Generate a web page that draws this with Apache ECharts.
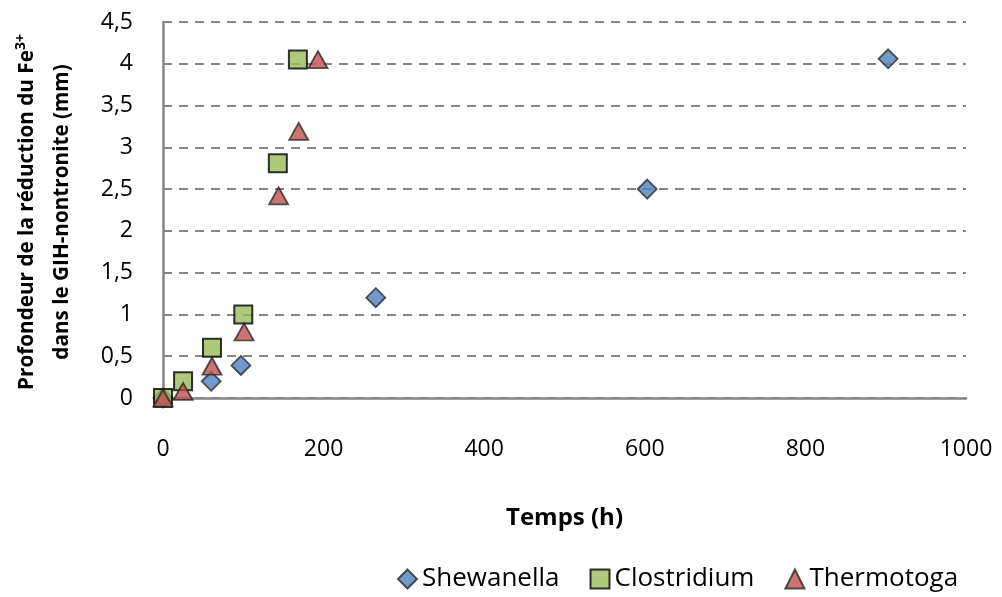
<!DOCTYPE html>
<html><head><meta charset="utf-8">
<script src="https://cdn.jsdelivr.net/npm/echarts@6/dist/echarts.min.js"></script>
<style>html,body{margin:0;padding:0;background:#fff}#c{width:1002px;height:597px}</style>
</head><body><div id="c"></div>
<script>
const seriesNames = ['Shewanella', 'Clostridium', 'Thermotoga'];
const shewanellaX = [0, 60, 97, 265, 603, 903];
const shewanellaY = [0, 0.2, 0.39, 1.2, 2.5, 4.06];
const clostridiumX = [0, 25, 61, 100, 143, 168];
const clostridiumY = [0, 0.2, 0.6, 1.0, 2.81, 4.05];
const thermotogaX = [0, 25, 61, 101, 144, 169, 193];
const thermotogaY = [0, 0.08, 0.38, 0.79, 2.42, 3.19, 4.05];
const xTicks = [0, 200, 400, 600, 800, 1000];
const yTicks = [0, 0.5, 1, 1.5, 2, 2.5, 3, 3.5, 4, 4.5];

const pair = (xs, ys) => xs.map((x, i) => [x, ys[i]]);
const font = '"Open Sans", Lato, sans-serif';
const chart = echarts.init(document.getElementById('c'), null, {renderer: 'canvas'});
chart.setOption({
  animation: false,
  grid: {left: 163, right: 36, top: 22, bottom: 199},
  xAxis: {
    type: 'value', min: 0, max: 1000, interval: 200,
    axisLine: {show: true, lineStyle: {color: '#868686', width: 2.5}},
    axisTick: {show: false},
    splitLine: {show: false},
    axisLabel: {color: '#000', fontSize: 23, fontFamily: font, margin: 40,
      formatter: v => xTicks.includes(v) ? String(v) : ''},
    name: 'Temps (h)', nameLocation: 'middle', nameGap: 108,
    nameTextStyle: {color: '#000', fontSize: 24, fontWeight: 'bold', fontFamily: font}
  },
  yAxis: {
    type: 'value', min: 0, max: 4.5, interval: 0.5,
    axisLine: {show: true, lineStyle: {color: '#868686', width: 2.5}},
    axisTick: {show: false},
    splitLine: {show: true, lineStyle: {color: '#868686', width: 2, type: [9, 7]}},
    axisLabel: {color: '#000', fontSize: 23, fontFamily: font, margin: 30,
      formatter: v => yTicks.includes(v) ? String(v).replace('.', ',') : ''}
  },
  graphic: [{
    type: 'text', rotation: Math.PI / 2, x: 45, y: 212,
    style: {
      text: '{a|Profondeur de la réduction du Fe}{s|3+}\n{a|dans le GIH-nontronite (mm)}',
      textAlign: 'center', textVerticalAlign: 'middle',
      rich: {
        a: {fontSize: 20.7, fontWeight: 'bold', fontFamily: font, fill: '#000', lineHeight: 35},
        s: {fontSize: 14, fontWeight: 'bold', fontFamily: font, fill: '#000', padding: [0, 0, 12, 0]}
      }
    }
  }],
  legend: {
    bottom: 0, left: 392, itemGap: 30, itemWidth: 19, itemHeight: 19,
    textStyle: {color: '#000', fontSize: 26, fontFamily: font},
    data: [
      {name: seriesNames[0], icon: 'diamond'},
      {name: seriesNames[1], icon: 'rect'},
      {name: seriesNames[2], icon: 'triangle'}
    ]
  },
  series: [
    {name: seriesNames[0], type: 'scatter', symbol: 'diamond', symbolSize: 19,
     itemStyle: {color: '#4F81BD', borderColor: '#2b2b2b', borderWidth: 1.8},
     data: pair(shewanellaX, shewanellaY)},
    {name: seriesNames[1], type: 'scatter', symbol: 'rect', symbolSize: 18,
     itemStyle: {color: '#9BBB59', borderColor: '#000', borderWidth: 2},
     data: pair(clostridiumX, clostridiumY)},
    {name: seriesNames[2], type: 'scatter', symbol: 'triangle', symbolSize: [19, 17],
     itemStyle: {color: '#C0504D', borderColor: '#2b2b2b', borderWidth: 1.8},
     data: pair(thermotogaX, thermotogaY)}
  ]
});
</script></body></html>
